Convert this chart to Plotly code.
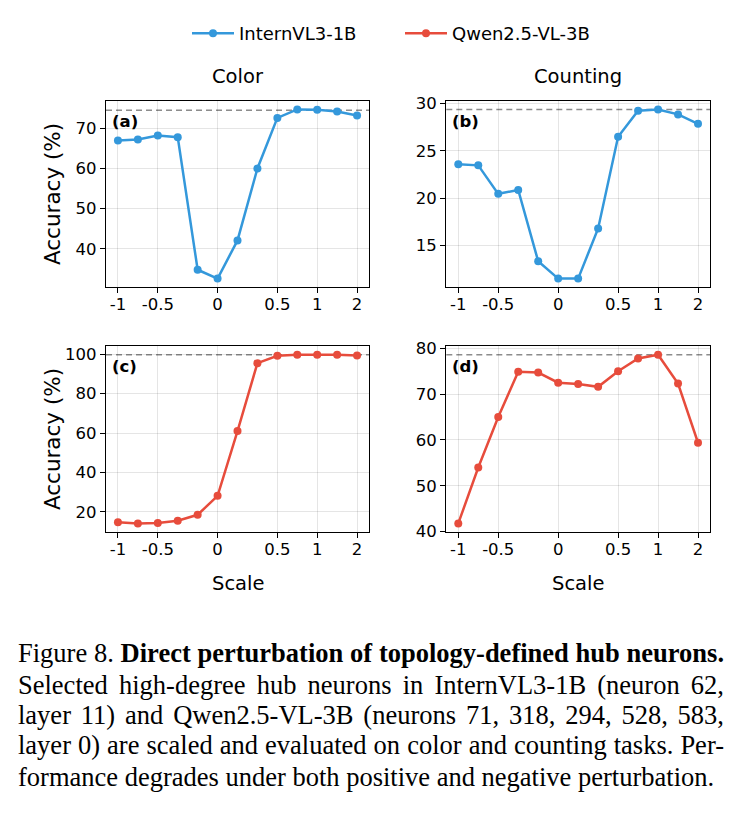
import json
import re
import plotly.graph_objects as go

# ---- data ----
scale_idx = list(range(13))
tick_idx = [0, 2, 5, 8, 10, 12]
tick_labels = ["-1", "-0.5", "0", "0.5", "1", "2"]

intern_color = [67.0, 67.2, 68.2, 67.8, 34.8, 32.6, 42.1, 60.0, 72.6, 74.7, 74.6, 74.2, 73.2]
intern_count = [23.6, 23.47, 20.46, 20.87, 13.33, 11.5, 11.5, 16.8, 26.5, 29.24, 29.38, 28.86, 27.86]
qwen_color = [14.7, 14.1, 14.3, 15.5, 18.5, 28.1, 61.0, 95.5, 99.3, 99.8, 99.8, 99.8, 99.4]
qwen_count = [41.8, 54.0, 65.0, 74.9, 74.7, 72.5, 72.2, 71.6, 75.0, 77.8, 78.6, 72.3, 59.4]

baselines = [74.5, 29.38, 99.8, 78.6]
panel_labels = ["(a)", "(b)", "(c)", "(d)"]
col_titles = ["Color", "Counting"]

BLUE = "#3498db"
RED = "#e74c3c"
W, H = 740, 818
FONT = "DejaVu Sans"

fig = go.Figure()

xdom_px = [(106, 369), (446.3, 710)]
ydom_px = [(96, 286), (346.5, 536)]

def xd(p):
    return [p[0] / W, p[1] / W]

def yd(p):
    return [1 - p[1] / H, 1 - p[0] / H]

series = [intern_color, intern_count, qwen_color, qwen_count]
colors = [BLUE, BLUE, RED, RED]
names = ["InternVL3-1B", "InternVL3-1B", "Qwen2.5-VL-3B", "Qwen2.5-VL-3B"]
show = [True, False, True, False]

layout_axes = {}
for i in range(4):
    r, c = divmod(i, 2)
    n = i + 1
    xa = "x" if n == 1 else f"x{n}"
    ya = "y" if n == 1 else f"y{n}"
    vals = series[i]
    lo = min(vals + [baselines[i]])
    hi = max(vals + [baselines[i]])
    pad = (hi - lo) * 0.05
    fig.add_trace(go.Scatter(
        x=scale_idx, y=vals, mode="lines+markers", name=names[i],
        showlegend=show[i], legendgroup=names[i],
        line=dict(color=colors[i], width=2.5),
        marker=dict(color=colors[i], size=8),
        xaxis=xa, yaxis=ya,
    ))
    fig.add_shape(type="line", xref=f"{xa} domain", yref=ya,
                  x0=0, x1=1, y0=baselines[i], y1=baselines[i],
                  line=dict(color="#8c8c8c", width=1.6, dash="6px,4px"), layer="below")
    axis_common = dict(
        showline=True, linecolor="black", linewidth=1.3, mirror=True,
        ticks="outside", ticklen=5, tickwidth=1.2, tickcolor="black",
        showgrid=True, gridcolor="rgba(0,0,0,0.1)", gridwidth=1,
        zeroline=False,
        tickfont=dict(family=FONT, size=16.5, color="black"),
    )
    layout_axes["xaxis" if n == 1 else f"xaxis{n}"] = dict(
        axis_common, domain=xd(xdom_px[c]), anchor=ya,
        range=[-0.6, 12.6], tickmode="array", tickvals=tick_idx, ticktext=tick_labels,
        ticklabelstandoff=-3,
    )
    layout_axes["yaxis" if n == 1 else f"yaxis{n}"] = dict(
        axis_common, domain=yd(ydom_px[r]), anchor=xa,
        range=[lo - pad, hi + pad],
    )
    fig.add_annotation(text=f"<b>{panel_labels[i]}</b>", xref=f"{xa} domain", yref=f"{ya} domain",
                       x=0.015, y=0.89, xanchor="left", yanchor="middle", showarrow=False,
                       font=dict(family=FONT, size=16.5, color="black"))

fig.update_layout(**layout_axes)

for c, t in enumerate(col_titles):
    xc = (xdom_px[c][0] + xdom_px[c][1]) / 2 / W
    fig.add_annotation(text=t, xref="paper", yref="paper", x=xc, y=1 - 71 / H,
                       xanchor="center", yanchor="middle", showarrow=False,
                       font=dict(family=FONT, size=19.5, color="black"))

for r in range(2):
    yc = 1 - (ydom_px[r][0] + ydom_px[r][1]) / 2 / H
    fig.add_annotation(text="Accuracy (%)", xref="paper", yref="paper", x=52 / W, y=yc,
                       textangle=-90, xanchor="center", yanchor="middle", showarrow=False,
                       font=dict(family=FONT, size=21.5, color="black"))

for c in range(2):
    xc = (xdom_px[c][0] + xdom_px[c][1]) / 2 / W
    fig.add_annotation(text="Scale", xref="paper", yref="paper", x=xc, y=1 - 589 / H,
                       xanchor="center", yanchor="middle", showarrow=False,
                       font=dict(family=FONT, size=19.5, color="black"))

# caption
caption_lines = [
    "Figure 8. <b>Direct perturbation of topology-defined hub neurons.</b>",
    "Selected high-degree hub neurons in InternVL3-1B (neuron 62,",
    "layer 11) and Qwen2.5-VL-3B (neurons 71, 318, 294, 528, 583,",
    "layer 0) are scaled and evaluated on color and counting tasks. Per-",
    "formance degrades under both positive and negative perturbation.",
]
justify = [True, True, True, True, False]
cap_y = [660, 692, 723, 754, 786]
for line, yy in zip(caption_lines, cap_y):
    fig.add_annotation(text=line, xref="paper", yref="paper", x=16 / W, y=1 - yy / H,
                       xanchor="left", yanchor="middle", align="left", showarrow=False,
                       font=dict(family="Liberation Serif", size=26.5, color="black"))

fig.update_layout(
    width=W, height=H, margin=dict(l=0, r=0, t=0, b=0),
    paper_bgcolor="white", plot_bgcolor="white",
    showlegend=True,
    legend=dict(orientation="h", x=187 / W, xanchor="left", y=1 - 27 / H, yanchor="middle",
                font=dict(family=FONT, size=18, color="black"),
                itemwidth=42, entrywidth=156, entrywidthmode="pixels",
                tracegroupgap=0, bgcolor="rgba(0,0,0,0)"),
)

plain_targets = [re.sub(r"<[^>]+>", "", l) for l, j in zip(caption_lines, justify) if j]
post = """
var gd = document.getElementById('{plot_id}');
var targets = %s;
var tw = 706;
gd.querySelectorAll('text.annotation-text').forEach(function(t){
  var s = t.textContent;
  if (targets.indexOf(s) >= 0) {
    var len = t.getComputedTextLength();
    var n = (s.match(/ /g) || []).length;
    if (n > 0) { t.style.wordSpacing = ((tw - len) / n) + 'px'; }
  }
});
""" % json.dumps(plain_targets)

fig.write_html("out.html", post_script=post)
